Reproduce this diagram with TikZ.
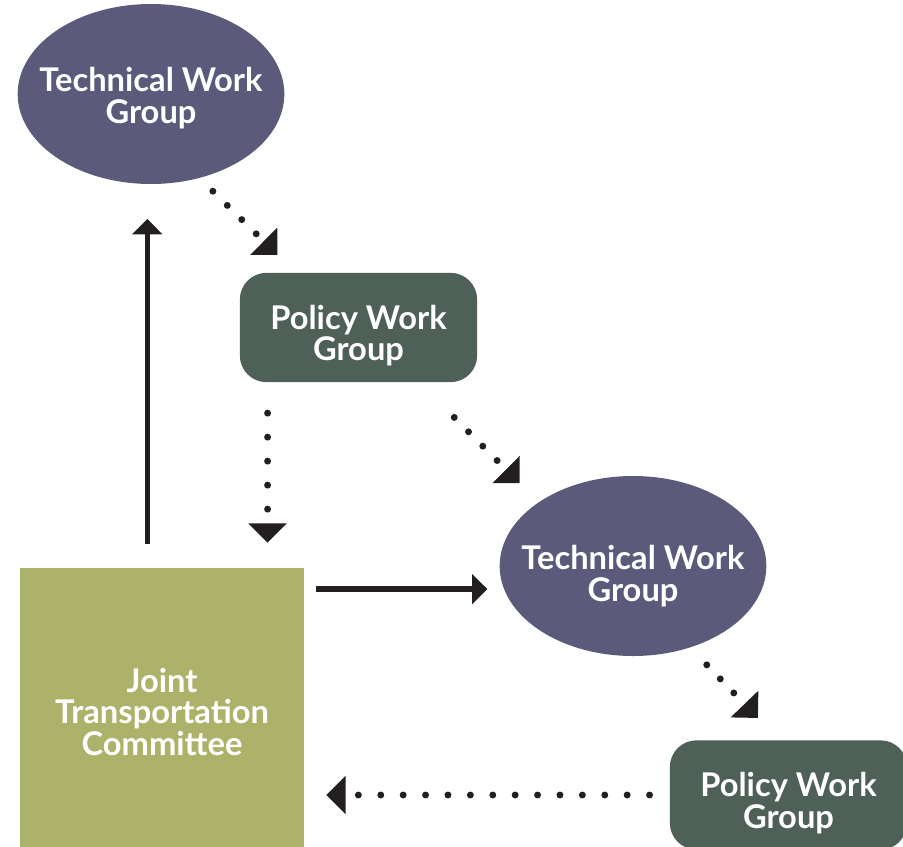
\documentclass[tikz,border=0pt]{standalone}
\usepackage{fontspec}
\setmainfont{Lato}
\usepackage{xcolor}
\usepackage{tikz}
\usetikzlibrary{arrows.meta, shapes.geometric}
\definecolor{techfill}{HTML}{5C5A7A}
\definecolor{policyfill}{HTML}{4E6058}
\definecolor{jointfill}{HTML}{ACB26A}
\definecolor{arrowink}{HTML}{231F20}

\begin{document}
\begin{tikzpicture}[x=0.75pt, y=-0.75pt]
\tikzstyle{label}=[text=white, font=\bfseries\fontsize{24.5}{23.5}\selectfont, align=center, inner sep=0pt]
\tikzstyle{techgroup}=[ellipse, fill=techfill, minimum width=200pt, minimum height=135pt, inner sep=0pt]
\tikzstyle{policygroup}=[rectangle, rounded corners=20pt, fill=policyfill, minimum width=178pt, minimum height=82pt, inner sep=0pt]
\tikzstyle{joint}=[rectangle, fill=jointfill, minimum width=213pt, minimum height=216pt, inner sep=0pt]
\tikzstyle{solidarrow}=[draw=arrowink, line width=4pt, -{Triangle[length=11.5pt, width=22pt]}, arrowink]
\tikzstyle{dotarrow}=[draw=arrowink, line width=5.2pt, line cap=round, dash pattern=on 0pt off #1, -{Triangle[length=14.5pt, width=28pt]}, arrowink]
\useasboundingbox (0,0) rectangle (903,846);
\clip (0,0) rectangle (903,846);

\node[techgroup] (tech1) at (151,94) {};
\node[policygroup] (pol1) at (358.5,327.5) {};
\node[techgroup] (tech2) at (633,566) {};
\node[policygroup] (pol2) at (788.5,795) {};
\node[joint] (jtc) at (162,712) {};

\node[label] (tech1txt) at ([yshift=-3pt]tech1) {Technical Work\\Group};
\node[label] (pol1txt) at ([yshift=-6pt]pol1) {Policy Work\\Group};
\node[label] (tech2txt) at ([yshift=-7.5pt]tech2) {Technical Work\\Group};
\node[label] (pol2txt) at ([yshift=-6pt]pol2) {Policy Work\\Group};
\node[label] (jtctxt) at (jtc) {Joint\\Transportation\\Committee};

\draw[solidarrow, shorten <=18pt, shorten >=26pt] ([xshift=-11pt]jtc.north) -- ([xshift=-11pt]jtc.north |- tech1.south);
\draw[solidarrow, shorten <=9pt, shorten >=9pt] ([yshift=-16pt]jtc.north east) -- ([yshift=-16pt]jtc.north east -| tech2.west);

\draw[dotarrow=15.2pt, shorten <=14pt, shorten >=19pt] (tech1.-60) -- ([xshift=42pt]pol1.north west);
\draw[dotarrow=18pt, shorten <=23pt, shorten >=18.75pt] ([xshift=21pt]pol1.south west) -- ([xshift=21pt]pol1.south west |- jtc.north);
\draw[dotarrow=15.2pt, shorten <=37pt, shorten >=20pt] ([xshift=-43.5pt]pol1.south east) -- (tech2.north west);
\draw[dotarrow=14.6pt, shorten <=18pt, shorten >=23pt] (tech2.-55) -- ([xshift=-7pt]pol2.north);
\draw[dotarrow=16.8pt, shorten <=15pt, shorten >=16.5pt] (pol2.west) -- (jtc.east |- pol2.west);
\end{tikzpicture}
\end{document}
